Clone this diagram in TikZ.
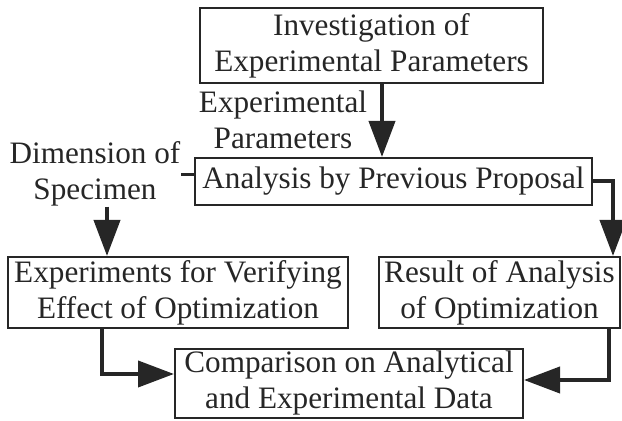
\documentclass[tikz,border=0pt]{standalone}
\usepackage{fontspec}
\setmainfont{Liberation Serif}
\usetikzlibrary{arrows.meta}

\begin{document}
\begin{tikzpicture}[x=0.5pt, y=-0.5pt,
        box/.style={draw=black!85, text=black!85, line width=1pt, inner sep=0pt, align=center, font=\fontsize{15.6}{18}\selectfont},
        lbl/.style={text=black!85, inner sep=0pt, align=center, font=\fontsize{15.6}{18}\selectfont},
        flow/.style={draw=black!85, line width=2pt, -{Triangle[width=13pt, length=18pt]}},
        link/.style={draw=black!85, line width=1.5pt}]
    \useasboundingbox (0, 0) rectangle (622, 421);

    % boxes
    \node[box, minimum width=171.5pt, minimum height=37.5pt] (inv) at (371.5, 45.5) {Investigation of\\Experimental Parameters};
    \node[box, minimum width=198.5pt, minimum height=23.5pt] (ana) at (393.5, 181.5) {Analysis by Previous Proposal};
    \node[box, minimum width=170pt, minimum height=35.5pt] (exp) at (178, 292.5) {Experiments for Verifying\\Effect of Optimization};
    \node[box, minimum width=120.5pt, minimum height=35.5pt] (res) at (499.5, 292.5) {Result of Analysis\\of Optimization};
    \node[box, minimum width=174pt, minimum height=34.5pt] (cmp) at (349, 383.5) {Comparison on Analytical\\and Experimental Data};

    % inputs
    \node[lbl] (par) at (283, 120) {Experimental\\Parameters};
    \node[lbl] (dim) at (95, 174) {Dimension of\\Specimen};

    % connectors
    \draw[flow] ([xshift=5.25pt]inv.south) -- ([xshift=5.25pt]inv.south |- ana.north);
    \draw[link] ([yshift=3.25pt]ana.west) -- ([yshift=3.25pt]ana.west -| dim.east);
    \draw[flow] ([xshift=6pt]dim.south) -- ([xshift=6pt]dim.south |- exp.north);
    \draw[flow] (ana.east) -| ([xshift=-4pt]res.north east);
    \draw[flow] ([xshift=47.5pt]exp.south west) |- ([yshift=4.75pt]cmp.west);
    \draw[flow] ([xshift=-6pt]res.south east) |- ([yshift=1.75pt]cmp.east);
\end{tikzpicture}
\end{document}
